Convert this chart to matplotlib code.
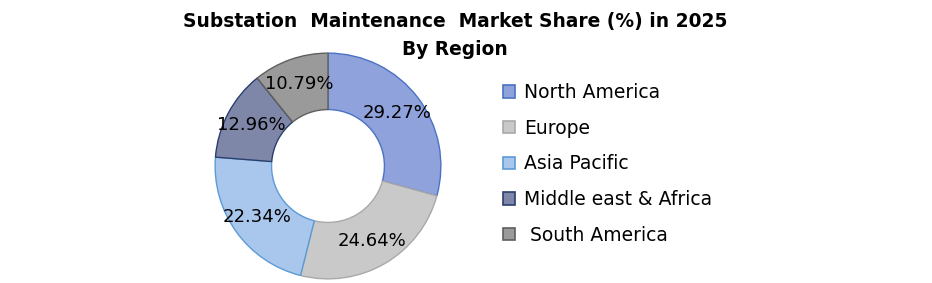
import matplotlib
matplotlib.use("Agg")
import matplotlib.pyplot as plt
from matplotlib.patches import Patch

regions = ["North America", "Europe", "Asia Pacific", "Middle east & Africa", " South America"]
shares = [29.27, 24.64, 22.34, 12.96, 10.79]
face_colors = ["#8fa2dc", "#c9c9c9", "#a9c7ec", "#7f87a8", "#9a9a9a"]
edge_colors = ["#4a72c4", "#a9a9a9", "#5b9bd5", "#2a3f6e", "#5f5f5f"]

fig = plt.figure(figsize=(9.32, 2.83), dpi=100)
fig.text(0.488, 0.958, "Substation  Maintenance  Market Share (%) in 2025\nBy Region",
         ha="center", va="top", fontsize=13.4, fontweight="bold", linespacing=1.6)

ax = fig.add_axes([214 / 932, 3 / 283, 228 / 932, 228 / 283])
wedges, texts, autotexts = ax.pie(
    shares, colors=face_colors, startangle=90, counterclock=False,
    radius=1, autopct=lambda p: "", pctdistance=0.77,
    wedgeprops=dict(width=0.5, linewidth=1))
for w, ec in zip(wedges, edge_colors):
    w.set_edgecolor(ec)
for t, v in zip(autotexts, shares):
    t.set_text(f"{v:.2f}%")
    t.set_fontsize(13)
    t.set_color("black")
ax.set_xlim(-1.01, 1.01)
ax.set_ylim(-1.01, 1.01)
ax.set_aspect("equal")
ax.axis("off")

handles = [Patch(facecolor=f, edgecolor=e, linewidth=1.2) for f, e in zip(face_colors, edge_colors)]
fig.legend(handles, regions, loc="upper left", bbox_to_anchor=(503 / 932, 1 - 83 / 283),
           frameon=False, fontsize=13.5, handlelength=0.65, handleheight=0.65,
           handletextpad=0.45, labelspacing=0.89, borderaxespad=0, borderpad=0)

fig.savefig("out.png", dpi=100)
